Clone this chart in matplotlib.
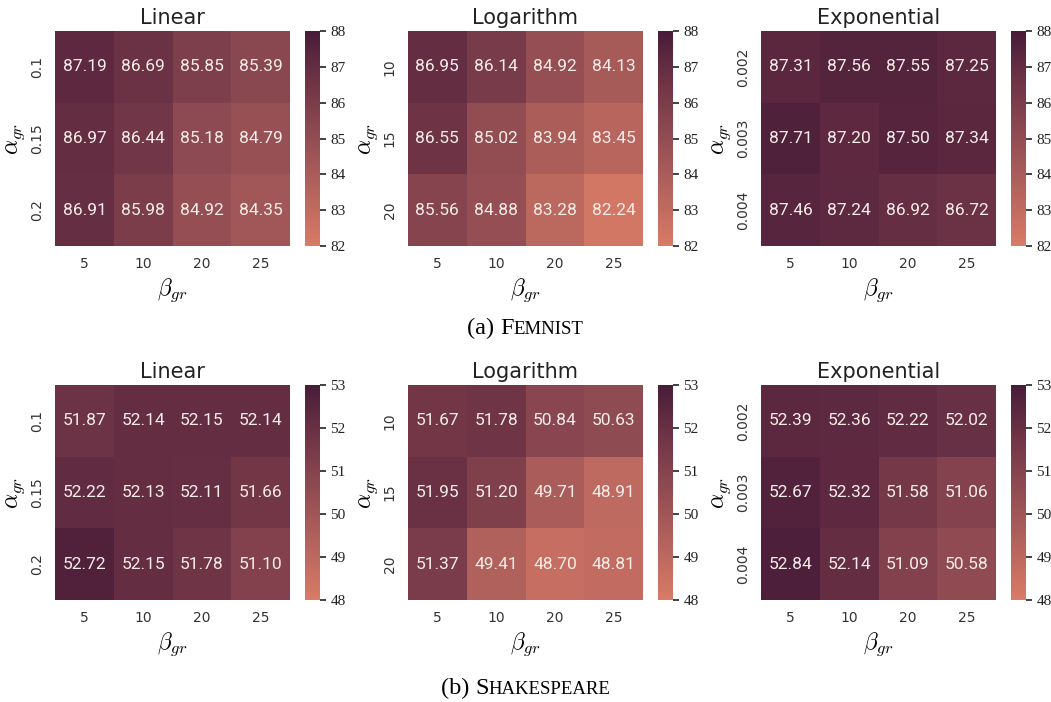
import numpy as np
import matplotlib
matplotlib.use("Agg")
import matplotlib.pyplot as plt
from matplotlib.colors import LinearSegmentedColormap
from matplotlib.offsetbox import TextArea, HPacker, AnchoredOffsetbox
import seaborn as sns

plt.rcParams["mathtext.fontset"] = "cm"

beta_labels = ["5", "10", "20", "25"]
alpha_linear = ["0.1", "0.15", "0.2"]
alpha_log = ["10", "15", "20"]
alpha_exp = ["0.002", "0.003", "0.004"]

femnist_linear = [[87.19, 86.69, 85.85, 85.39],
                  [86.97, 86.44, 85.18, 84.79],
                  [86.91, 85.98, 84.92, 84.35]]
femnist_log = [[86.95, 86.14, 84.92, 84.13],
               [86.55, 85.02, 83.94, 83.45],
               [85.56, 84.88, 83.28, 82.24]]
femnist_exp = [[87.31, 87.56, 87.55, 87.25],
               [87.71, 87.20, 87.50, 87.34],
               [87.46, 87.24, 86.92, 86.72]]

shakespeare_linear = [[51.87, 52.14, 52.15, 52.14],
                      [52.22, 52.13, 52.11, 51.66],
                      [52.72, 52.15, 51.78, 51.10]]
shakespeare_log = [[51.67, 51.78, 50.84, 50.63],
                   [51.95, 51.20, 49.71, 48.91],
                   [51.37, 49.41, 48.70, 48.81]]
shakespeare_exp = [[52.39, 52.36, 52.22, 52.02],
                   [52.67, 52.32, 51.58, 51.06],
                   [52.84, 52.14, 51.09, 50.58]]

titles = ["Linear", "Logarithm", "Exponential"]
rows = [
    (femnist_linear, femnist_log, femnist_exp, 82, 88),
    (shakespeare_linear, shakespeare_log, shakespeare_exp, 48, 53),
]
alpha_sets = [alpha_linear, alpha_log, alpha_exp]

cmap = LinearSegmentedColormap.from_list(
    "warm", [(0.0, "#d97b67"), (0.5, "#924d53"),
             (0.8, "#693044"), (1.0, "#481c38")])

W, H = 1051, 702
fig = plt.figure(figsize=(W / 100, H / 100), dpi=100)

heat_left = [55, 408, 761]
heat_w = 235
cbar_off = 250
cbar_w = 15
row_top = [31, 385]
heat_h = 215

for r, (d_lin, d_log, d_exp, vmin, vmax) in enumerate(rows):
    for c, data in enumerate([d_lin, d_log, d_exp]):
        x0 = heat_left[c]
        y0 = row_top[r]
        ax = fig.add_axes([x0 / W, 1 - (y0 + heat_h) / H, heat_w / W, heat_h / H])
        cax = fig.add_axes([(x0 + cbar_off) / W, 1 - (y0 + heat_h) / H,
                            cbar_w / W, heat_h / H])
        sns.heatmap(np.array(data), ax=ax, cbar_ax=cax, cmap=cmap,
                    vmin=vmin, vmax=vmax, annot=True, fmt=".2f",
                    annot_kws={"color": "#f5ede8", "fontsize": 12.5,
                               "family": "Roboto"},
                    xticklabels=beta_labels, yticklabels=alpha_sets[c])
        ax.tick_params(length=0, labelsize=10, colors="#333333", pad=8)
        for t in ax.get_yticklabels():
            t.set_rotation(90)
            t.set_va("center")
        ax.set_title(titles[c], fontsize=15, color="#222222", pad=5)
        ax.set_xlabel(r"$\beta_{gr}$", fontsize=17, labelpad=4)
        ax.set_ylabel(r"$\alpha_{gr}$", fontsize=17, labelpad=2)
        cbar = ax.collections[0].colorbar
        cbar.set_ticks(np.arange(vmin, vmax + 1))
        cbar.outline.set_visible(False)
        cax.tick_params(length=4, width=1.2, labelsize=11, colors="#222222",
                        labelfontfamily="Liberation Serif")


def caption(prefix, first, rest, y_px):
    big = dict(fontsize=17.5, family="Liberation Serif", color="black")
    small = dict(fontsize=13.5, family="Liberation Serif", color="black")
    parts = [TextArea(prefix + " ", textprops=big),
             TextArea(first, textprops=big),
             TextArea(rest, textprops=small)]
    box = HPacker(children=parts, align="baseline", pad=0, sep=0)
    anch = AnchoredOffsetbox(loc="center", child=box, frameon=False,
                             bbox_to_anchor=(0.5, 1 - y_px / H),
                             bbox_transform=fig.transFigure, pad=0)
    fig.add_artist(anch)


caption("(a)", "F", "EMNIST", 328)
caption("(b)", "S", "HAKESPEARE", 688)

fig.savefig("out.png", dpi=100)
